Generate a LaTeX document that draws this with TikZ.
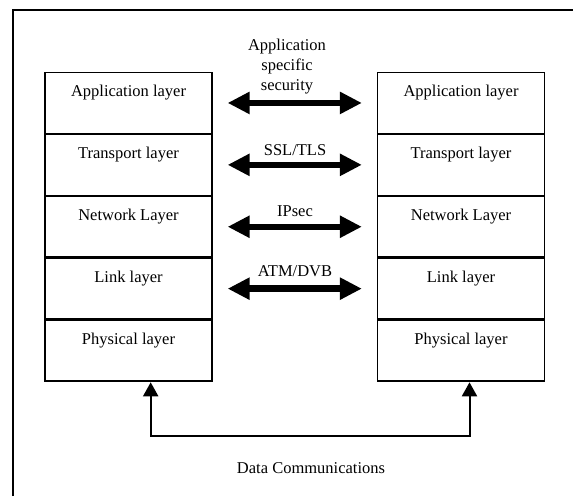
\documentclass[tikz,border=0pt]{standalone}
\usepackage{fontspec}
\setmainfont{Liberation Serif}
\usetikzlibrary{arrows.meta,calc}
\begin{document}
\begin{tikzpicture}[x=1pt,y=-1pt,
  every node/.style={font=\fontsize{16.5}{20}\selectfont},
  layerbox/.style={draw,line width=1.3pt,rectangle,minimum width=167pt,
    inner ysep=0pt,text height=24pt,text depth=36.6pt,anchor=north},
  secarrow/.style={line width=6.5pt,{Triangle[length=22pt,width=21pt]}-{Triangle[length=22pt,width=21pt]}},
  commarrow/.style={line width=2pt,{Triangle[length=14pt,width=15pt]}-{Triangle[length=14pt,width=15pt]}},
  seclabel/.style={align=center,inner sep=0pt}]
\useasboundingbox (0,0) rectangle (573,496);
% outer frame
\draw[line width=1.5pt] (13,496) -- (13,10) -- (573,10);
% left stack
\node[layerbox] (L1) at (128.5,72) {Application layer};
\node[layerbox] (L2) at (L1.south) {Transport layer};
\node[layerbox] (L3) at (L2.south) {Network Layer};
\node[layerbox] (L4) at (L3.south) {Link layer};
\node[layerbox] (L5) at (L4.south) {Physical layer};
% right stack
\node[layerbox] (R1) at (461,72) {Application layer};
\node[layerbox] (R2) at (R1.south) {Transport layer};
\node[layerbox] (R3) at (R2.south) {Network Layer};
\node[layerbox] (R4) at (R3.south) {Link layer};
\node[layerbox] (R5) at (R4.south) {Physical layer};
% security arrows
\draw[secarrow] ($(L1.east)+(15,0)$) -- ($(R1.west)+(-15,0)$);
\draw[secarrow] ($(L2.east)+(15,0)$) -- ($(R2.west)+(-15,0)$);
\draw[secarrow] ($(L3.east)+(15,0)$) -- ($(R3.west)+(-15,0)$);
\draw[secarrow] ($(L4.east)+(15,0)$) -- ($(R4.west)+(-15,0)$);
% labels
\node[seclabel,anchor=base] (t1) at (287,90.5) {Application\\specific\\security};
\node[seclabel,anchor=base] (t2) at (295,155) {SSL/TLS};
\node[seclabel,anchor=base] (t3) at (295,216) {IPsec};
\node[seclabel,anchor=base] (t4) at (295,276.5) {ATM/DVB};
% data communications
\coordinate (c1) at (150.7,436);
\coordinate (c2) at (469.5,436);
\draw[commarrow] ($(c1 |- L5.south)+(0,0.8)$) -- (c1) -- (c2) -- ($(c2 |- R5.south)+(0,0.8)$);
\node[anchor=base,inner sep=0pt] (dc) at (311,473.5) {Data Communications};
\end{tikzpicture}
\end{document}
